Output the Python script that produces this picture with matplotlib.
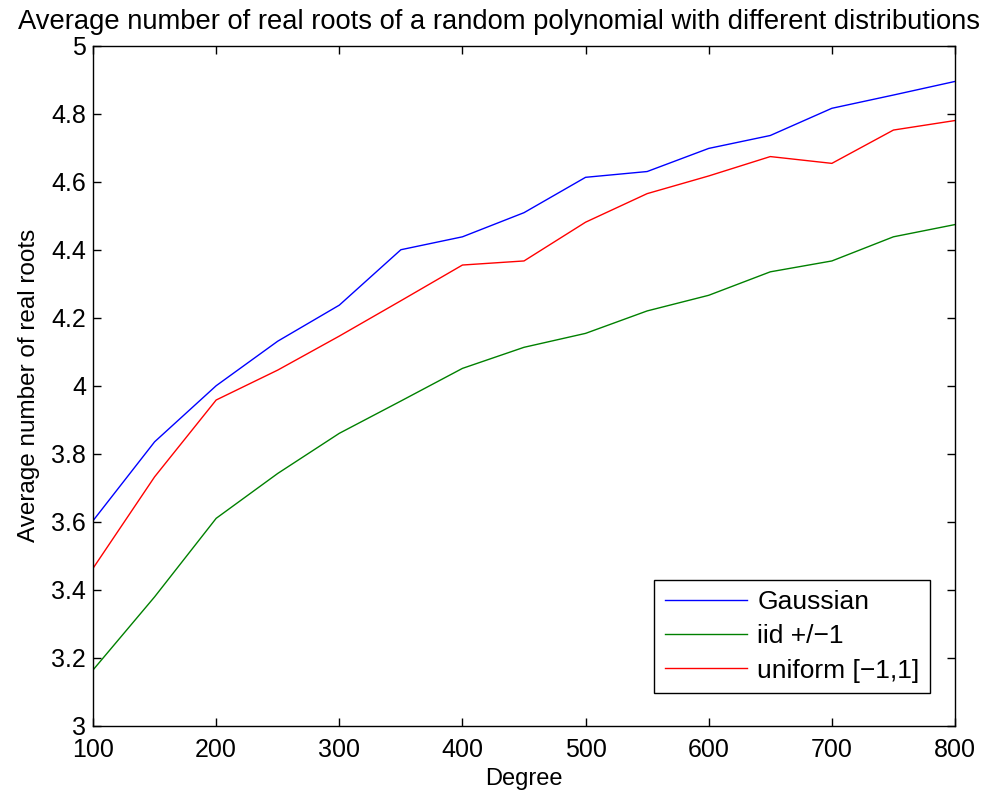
import matplotlib
matplotlib.use("Agg")
import matplotlib.pyplot as plt

# data
degree = [100, 150, 200, 250, 300, 350, 400, 450, 500, 550, 600, 650, 700, 750, 800]
gaussian = [3.603, 3.835, 4.000, 4.131, 4.237, 4.400, 4.438, 4.509, 4.613, 4.630,
            4.698, 4.736, 4.816, 4.855, 4.895]
iid_pm1 = [3.164, 3.379, 3.610, 3.742, 3.860, 3.955, 4.051, 4.113, 4.154, 4.220,
           4.266, 4.335, 4.367, 4.438, 4.474]
uniform = [3.463, 3.732, 3.958, 4.046, 4.146, 4.250, 4.355, 4.367, 4.481, 4.565,
           4.617, 4.674, 4.654, 4.752, 4.780]

xticks = [100, 200, 300, 400, 500, 600, 700, 800]
yticks = [3, 3.2, 3.4, 3.6, 3.8, 4, 4.2, 4.4, 4.6, 4.8, 5]
yticklabels = ["3", "3.2", "3.4", "3.6", "3.8", "4", "4.2", "4.4", "4.6", "4.8", "5"]

plt.rcParams["font.family"] = ["Liberation Sans", "DejaVu Sans"]
plt.rcParams["axes.unicode_minus"] = True

fig = plt.figure(figsize=(9.95, 7.94), dpi=100)
ax = fig.add_axes([0.0935, 0.086, 0.8663, 0.8564])

ax.plot(degree, gaussian, color="#0000ff", lw=1.0, label="Gaussian")
ax.plot(degree, iid_pm1, color="#008000", lw=1.0, label="iid +/\u22121")
ax.plot(degree, uniform, color="#ff0000", lw=1.0, label="uniform [\u22121,1]")

ax.set_xlim(100, 800)
ax.set_ylim(3, 5)
ax.set_xticks(xticks)
ax.set_yticks(yticks)
ax.set_yticklabels(yticklabels)
ax.tick_params(direction="in", length=6, width=1, top=True, right=True, labelsize=18)
ax.tick_params(axis="x", pad=9)
ax.tick_params(axis="y", pad=5)
for s in ax.spines.values():
    s.set_linewidth(1.0)

ax.set_xlabel("Degree", fontsize=17, labelpad=4)
ax.set_ylabel("Average number of real roots", fontsize=17.5, labelpad=8)
ax.set_title("Average number of real roots of a random polynomial with different distributions",
             fontsize=19.7, pad=12, x=0.471)

leg = ax.legend(loc="lower right", bbox_to_anchor=(0.971, 0.048), borderaxespad=0,
                fontsize=19, frameon=True, fancybox=False, edgecolor="black", framealpha=1,
                handlelength=3.1, borderpad=0.4, labelspacing=0.38, handletextpad=0.4)
leg.get_frame().set_linewidth(1.0)

fig.savefig("out.png", dpi=100)
